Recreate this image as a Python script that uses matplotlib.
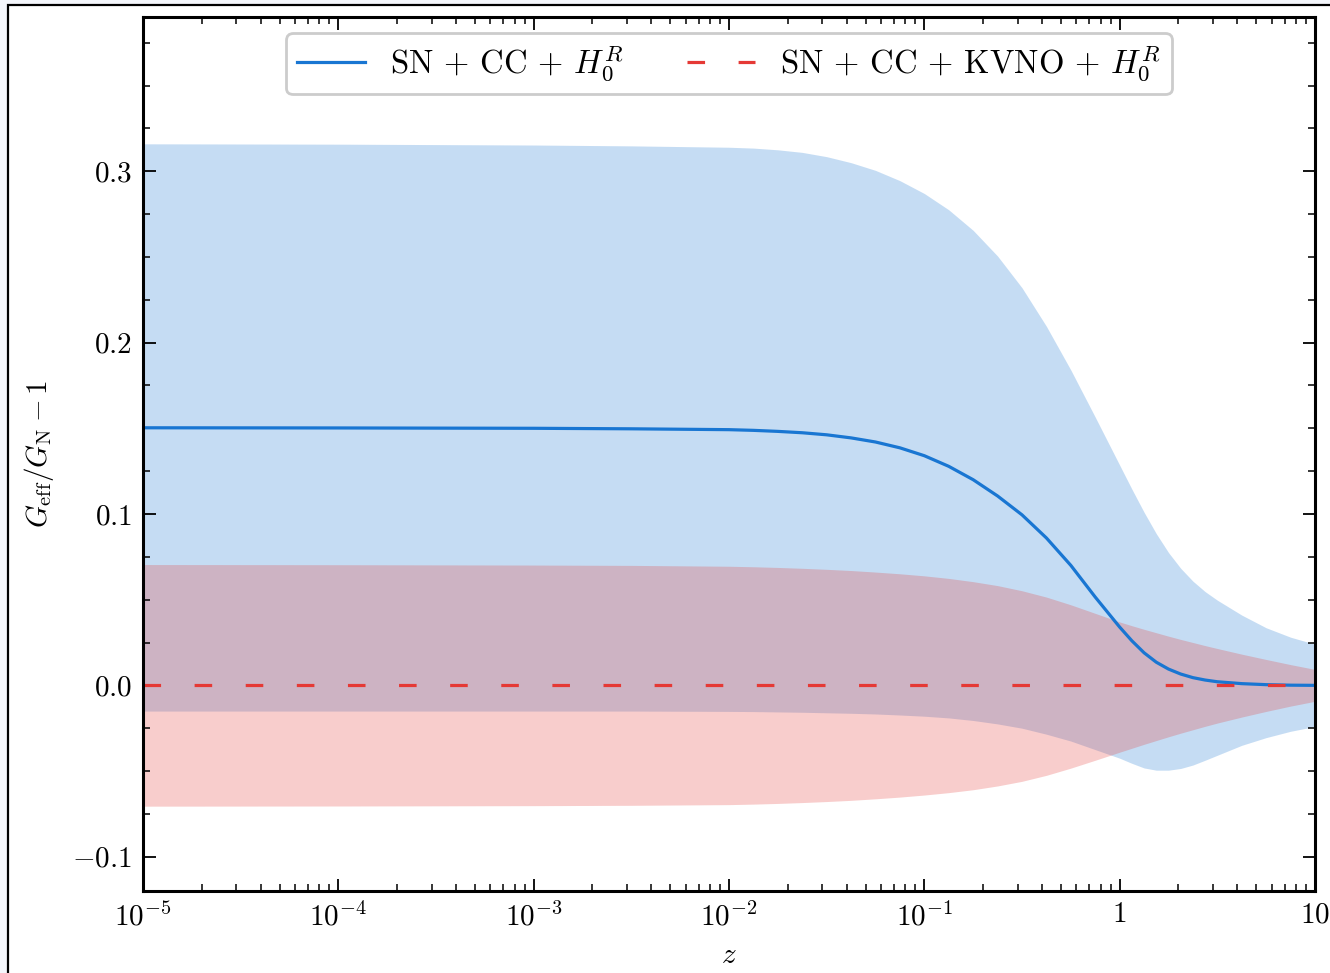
import numpy as np
import matplotlib
matplotlib.use('Agg')
import matplotlib.pyplot as plt
from matplotlib.patches import Rectangle
from matplotlib.ticker import FixedLocator, FuncFormatter, LogLocator, MultipleLocator, NullFormatter

plt.rcParams['font.family'] = 'serif'
plt.rcParams['font.serif'] = ['cmr10', 'DejaVu Serif']
plt.rcParams['mathtext.fontset'] = 'cm'
plt.rcParams['axes.unicode_minus'] = False

# data: log10(z) grid and G_eff/G_N - 1
logz = [-5.0, -4.0, -3.0, -2.5, -2.0, -1.875, -1.75, -1.625, -1.5, -1.375, -1.25, -1.125,
        -1.0, -0.875, -0.75, -0.625, -0.5, -0.375, -0.25, -0.125, 0.0, 0.0625, 0.125,
        0.1875, 0.25, 0.3125, 0.375, 0.4375, 0.5, 0.625, 0.75, 0.875, 1.0]

# SN + CC + H0R
blue_mean = [0.1503, 0.1502, 0.1500, 0.1497, 0.1492, 0.1488, 0.1482, 0.1474, 0.1462, 0.1444, 0.1420, 0.1386,
             0.1340, 0.1278, 0.1200, 0.1105, 0.0995, 0.0860, 0.0700, 0.0515, 0.0340, 0.0260, 0.0190,
             0.0135, 0.0095, 0.0066, 0.0045, 0.0031, 0.0021, 0.0010, 0.0004, 0.0001, 0.0]
blue_hi = [0.316, 0.3158, 0.3153, 0.3148, 0.3140, 0.3135, 0.3125, 0.3110, 0.3085, 0.3050, 0.3005, 0.2945,
           0.2870, 0.2775, 0.2655, 0.2505, 0.2320, 0.2095, 0.1840, 0.1565, 0.1285, 0.1145, 0.1010,
           0.0885, 0.0775, 0.0683, 0.0608, 0.0547, 0.0497, 0.0410, 0.0336, 0.0281, 0.0240]
blue_lo = [-0.015, -0.015, -0.015, -0.015, -0.0152, -0.0153, -0.0155, -0.0157, -0.016, -0.0163, -0.0167, -0.0173,
           -0.018, -0.019, -0.0205, -0.0225, -0.025, -0.0285, -0.0325, -0.0375, -0.0425, -0.0455, -0.0482,
           -0.0495, -0.0495, -0.0485, -0.0465, -0.0437, -0.0408, -0.0350, -0.0305, -0.0268, -0.0240]

# SN + CC + KVNO + H0R
red_mean = [0.0] * len(logz)
red_hi = [0.0705, 0.0704, 0.0702, 0.070, 0.0695, 0.0692, 0.0688, 0.0683, 0.0677, 0.067, 0.0661, 0.0651,
          0.0639, 0.0624, 0.0605, 0.0582, 0.0552, 0.0515, 0.0470, 0.0420, 0.0370, 0.0348, 0.0327,
          0.0307, 0.0287, 0.0268, 0.0250, 0.0232, 0.0215, 0.0182, 0.0151, 0.0121, 0.0093]
red_lo = [-0.0705, -0.0704, -0.0702, -0.070, -0.0696, -0.0693, -0.0689, -0.0684, -0.0678, -0.0671, -0.0662, -0.0652,
          -0.0640, -0.0626, -0.0609, -0.0587, -0.0560, -0.0525, -0.0483, -0.0437, -0.0390, -0.0367, -0.0344,
          -0.0322, -0.0300, -0.0279, -0.0259, -0.0239, -0.0220, -0.0185, -0.0152, -0.0121, -0.0093]

c_blue = '#1976D2'
c_red = '#E53935'

z = 10.0 ** np.array(logz)

fig = plt.figure(figsize=(13.3, 9.73), dpi=100)
fig.patch.set_facecolor('#f4f6fb')
# white page with a black frame behind the plot
fig.patches.append(Rectangle((8/1330, -0.2), 1.2, 1.2 - 5/973,
                             transform=fig.transFigure, facecolor='white',
                             edgecolor='black', lw=1.6, zorder=-10))
ax = fig.add_axes([143/1330, 1-891/973, (1315-143)/1330, (891-17)/973])

ax.fill_between(z, blue_lo, blue_hi, color=c_blue, alpha=0.25, lw=0)
ax.fill_between(z, red_lo, red_hi, color=c_red, alpha=0.25, lw=0)
ax.plot(z, blue_mean, color=c_blue, lw=2.3, label=r'SN + CC + $H_0^R$')
ax.plot(z, red_mean, color=c_red, lw=2.3, dashes=(5.5, 10.5), label=r'SN + CC + KVNO + $H_0^R$')

ax.set_xscale('log')
ax.set_xlim(1e-5, 10)
ax.set_ylim(-0.12, 0.39)

xt = [1e-5, 1e-4, 1e-3, 1e-2, 1e-1, 1, 10]
xl = [r'$10^{-5}$', r'$10^{-4}$', r'$10^{-3}$', r'$10^{-2}$', r'$10^{-1}$', r'$1$', r'$10$']
ax.xaxis.set_major_locator(FixedLocator(xt))
ax.set_xticklabels(xl)
ax.xaxis.set_minor_locator(LogLocator(base=10, subs=np.arange(2, 10), numticks=20))
ax.xaxis.set_minor_formatter(NullFormatter())
ax.yaxis.set_major_locator(MultipleLocator(0.1))
ax.yaxis.set_minor_locator(MultipleLocator(0.025))
ax.yaxis.set_major_formatter(FuncFormatter(lambda v, p: '$%.1f$' % v if abs(v) > 1e-9 else '$0.0$'))

ax.tick_params(which='both', direction='in', top=True, right=True, labelsize=21)
ax.tick_params(which='major', length=9, width=1.3, pad=8)
ax.tick_params(which='minor', length=5, width=1.1)
for s in ax.spines.values():
    s.set_linewidth(2.2)

ax.set_xlabel(r'$z$', fontsize=21, labelpad=8)
ax.set_ylabel(r'$G_{\rm eff}/G_{\rm N} - 1$', fontsize=21, labelpad=12)

leg = ax.legend(loc='upper center', ncol=2, fontsize=23.5, handlelength=2.1,
                handletextpad=0.77, columnspacing=1.9, borderaxespad=0.5,
                borderpad=0.32, fancybox=True, framealpha=1, edgecolor='#cccccc')
leg.get_frame().set_linewidth(2)

fig.savefig('out.png', dpi=100, facecolor=fig.get_facecolor())
